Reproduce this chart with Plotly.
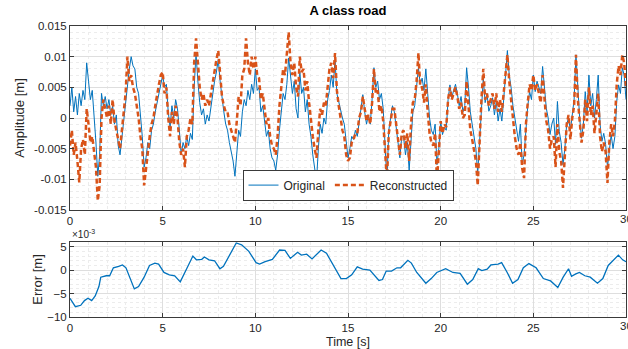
import numpy as np
import plotly.graph_objects as go

# ---------------- data (top plot values in units of 1e-3 m) ----------------
T_STEP = 0.1
ORIGINAL = [
    2, 5, 1, 3.5, 0.5, 4, 2, 4.5, 3, 9,
    6, 3, 4.5, 0.5, -4, -9.5, -6, 4, 2, 3.5,
    1.5, 3, 0.5, 2, -1, 0.5, -4.5, -6, -3, -0.5,
    3, 6, 8, 10, 8.5, 8, 5, 4, 0.5, -3,
    -8, -6.5, -4, -5, -2, -1, 1, 2.5, 4, 5.5,
    7, 5, 5.5, 1, -1.5, 2, 0, 3, 1.5, -2,
    -6, -4, -5, -3, -4.5, -2.5, -3.5, 5, 10.5, 6,
    2.5, 0.5, 1.5, -1, 0.5, -0.5, 2, 4, 6, 7.5,
    9.5, 6, 3, 1, -1, -2, -4, -5.5, -7, -9.5,
    -6, -2, -3, 1, 3, 2, 4.5, 3, 5.5, 4,
    8, 4.5, 5, 1, 2, -1, -3, -2, -5, -6.5,
    -7, -8.5, -6, -2, 1, 4, 3, 5.5, 9.8, 7,
    4, 6, 1.5, 0, 7.5, 4, 5, 1, 3, -1,
    -3, -6, -8, -10.3, -5, -1, -2.5, 0, -1, 3,
    4.5, 7, 5, 9.5, 4, 2.5, 1, 0, -1, -4,
    -6.5, -5, -3, -3.5, -2, -3, -1, 1.5, 3.8, 1,
    -1, 0.5, -1, 3, 8.2, 5, 6, 3, 4, 1.5,
    -5, -10.3, -2, 0, 2, 1, -1.5, -4, -6.5, -3,
    -3, -6, -4, -8.5, -3, 1, 2, 5, 8.2, 5.5,
    6.5, 4.5, 8, 4, 0, -2, -2.7, -1, -7.6, -5,
    -0.5, -2.7, -1.5, -2, 3, 5.4, 3.3, 4.5, 5.5, 4,
    2, 3.5, 1, 2, 8.2, 5, 1, -1, -3, -5,
    -9, -4, 2, 6.5, 2.5, 4, 1.1, 2, 3.3, 0.5,
    2.7, -0.5, 1.5, -0.5, 3, 7, 11, 7, 5, 2,
    0, -2, -3.8, -1, -7.6, -6, -1, 2, 4.3, 3,
    7, 4.3, 6, 5, 4, 8.4, 5, 1.6, 0, -2.7,
    -1, 0, -4.3, 2.7, -2.2, -4, -7.6, -5, -1, 0,
    -2, 1, 3, 10.3, 4, 0, -3.3, -1, 4.3, 1,
    7, 2, 4, 0, 3, 7, -1, -3.8, -2.5, -4.3,
    -8, -5, -2.7, -5, -3, 2.7, 5.4, 4, 8.2, 7,
    3,
]
RECONSTRUCTED = [
    -4.5, -2, -6, -4, -7, -10.5, -5, -3.5, -6, 1.5,
    -1, -4, -3, -6, -8, -13.5, -11, 0, 3, 1.5,
    0, 2, -1, 3, -0.5, -2, -3.5, -5, -2, 1,
    4, 10, 6, 7, 5, 4, 2, 0, -3, -5,
    -11, -8, -5, -3, -1, 0, 2, 4, 5.5, 7,
    7.5, 4, 5, 0, -3, 1, -1, 2, 0, -4,
    -6, -5, -8, -3, -2, 0, -1, 9, 13, 9,
    5, 3, 4, 2, 3, 2, 4, 6, 8, 9.5,
    11, 6.5, 3.5, 2, 1, 1, -1, -2, -3, -4,
    -0.5, 3.5, 2, 7, 8, 13, 9, 7, 10, 8,
    10, 7, 6.5, 3, 4, 1, -1, 0, -3, -4.5,
    -5, -6, -3, 2, 5, 8, 7, 10, 14, 9,
    7, 9, 5, 3.5, 10, 7.5, 8, 4.5, 6, 2.5,
    -0.5, -3, -5, -6.5, -2, 1.5, 0.5, 2.5, 2, 5.5,
    8, 9, 6.5, 10.6, 4.5, 2, 0, -2, -3, -6,
    -7, -6.5, -4, -3.5, -2.5, -2.5, 0, 1, 3.5, 1.5,
    -0.5, 0.5, -1, 2.5, 8, 4, 4.5, 1, 2, -0.5,
    -5.5, -10.3, -2.5, 0, 1.5, 1.5, -1, -3.5, -6, -2.5,
    -2, -5, -2.5, -7, -1, 2.5, 3, 6, 10.6, 5,
    5, 2.5, 5.5, 1, -2.5, -4, -4.5, -2.5, -10.3, -5.5,
    -0.5, -2.5, -1, -1.5, 3, 5, 3, 4, 5, 3.5,
    1.5, 2.5, 0, 0.5, 6, 2, -2, -3.5, -5, -7,
    -11, -3.5, 3, 8, 3, 4, 2, 3, 4, 1.5,
    4, 1, 3, 1, 4, 7.5, 10.3, 6, 3, -1,
    -3, -5, -6, -4, -8.2, -9.8, -1, 2.5, 5.5, 4.5,
    7, 4.5, 5.5, 4, 2.5, 7, 3, -0.5, -2, -5,
    -3.5, -3, -8, -1, -5.5, -7, -11.4, -6, -1, 0.5,
    -3.5, 0, 2, 10.3, 3, -0.5, -4, -2, 3, -0.5,
    5, 0.5, 2, -2.5, 0.5, 4, -3, -5.5, -4, -5.5,
    -10.6, -4, -1, -3, -0.5, 5.5, 8.5, 7, 10.3, 9,
    5,
]
# error signal (units of 1e-3 m)
ERR_T = [0, 0.29, 0.58, 0.78, 0.97, 1.17, 1.36, 1.56, 1.66, 1.95, 2.14, 2.34, 2.63, 2.83,
         3.02, 3.22, 3.47, 3.70, 4.0, 4.29, 4.58, 4.78, 5.07, 5.36, 5.65, 5.95, 6.24, 6.63,
         6.82, 7.11, 7.25, 7.5, 7.8, 8.09, 8.28, 8.58, 8.97, 9.26, 9.65, 10.04, 10.23, 10.53,
         10.92, 11.31, 11.6, 11.89, 12.28, 12.48, 12.77, 13.06, 13.55, 13.84, 14.23, 14.62,
         14.91, 15.2, 15.5, 15.79, 16.18, 16.67, 16.86, 17.06, 17.35, 17.64, 17.84, 18.23,
         18.42, 18.71, 19.2, 19.49, 19.79, 20.27, 20.66, 21.05, 21.44, 21.73, 22.03, 22.22,
         22.51, 22.71, 23.1, 23.29, 23.59, 23.88, 24.17, 24.46, 24.76, 25.15, 25.54, 25.93,
         26.32, 26.61, 26.9, 27.06, 27.29, 27.49, 27.78, 28.07, 28.46, 28.75, 29.04, 29.43,
         29.59, 29.82, 30.0]
ERR_V = [-6.0, -7.8, -7.5, -6.5, -6.0, -6.5, -5.5, -3.5, -1.5, -1.2, -1.2, 0.5, 0.8, 1.1,
         0.5, -1.5, -4.0, -3.5, -1.5, 1.0, 1.5, 1.3, -0.5, -1.0, -1.2, -2.5, 0.0, 3.0,
         2.2, 2.3, 2.8, 2.2, 2.0, 0.3, 0.8, 3.0, 5.8, 5.4, 4.0, 1.6, 1.3, 1.8,
         2.3, 4.3, 4.2, 2.5, 3.8, 3.2, 3.4, 2.4, 4.3, 3.6, 1.0, -1.8,
         -1.8, -1.0, 0.7, 0.2, 0.0, -2.2, -2.0, -0.2, -0.2, 0.5, 0.5, 2.1,
         1.5, -0.5, -2.8, -1.8, -0.5, 0.3, -0.5, -0.7, -3.0, -2.0, 0.3, -0.1,
         0.2, 1.1, 1.3, 1.6, -0.5, -2.8, -2.0, 0.5, 1.4, 0.5, -1.8, -2.3,
         -3.7, -1.5, 0.3, -1.3, -0.8, -0.5, -1.2, -1.5, -2.8, -1.8, 1.0, 2.6,
         3.2, 2.2, 1.8]

X_TICKS = [0, 5, 10, 15, 20, 25, 30]
X_TICKTEXT = ["0", "5", "10", "15", "20", "25", "30"]
AMP_TICKVALS = [-15, -10, -5, 0, 5, 10, 15]
AMP_TICKTEXT = ["-0.015", "-0.01", "-0.005", "0", "0.005", "0.01", "0.015"]
ERR_TICKS = [-10, -5, 0, 5]

t = np.arange(len(ORIGINAL)) * T_STEP

BLUE = "#0072BD"
ORANGE = "#D95319"
FONT = "Liberation Sans, Arial, Helvetica, sans-serif"
TXT = "#262626"

TOP_DOM = [0.3677, 1.0]
BOT_DOM = [0.0, 0.2577]

fig = go.Figure()
fig.add_trace(go.Scatter(x=t, y=ORIGINAL, mode="lines", name="Original",
                         line=dict(color=BLUE, width=1), xaxis="x", yaxis="y"))
fig.add_trace(go.Scatter(x=t, y=RECONSTRUCTED, mode="lines", name="Reconstructed",
                         line=dict(color=ORANGE, width=2.5, dash="5px,3px"), xaxis="x", yaxis="y"))
fig.add_trace(go.Scatter(x=ERR_T, y=ERR_V, mode="lines", showlegend=False,
                         line=dict(color=BLUE, width=1.3), xaxis="x2", yaxis="y2"))

axis_common = dict(showline=True, linecolor="#3a3a3a", linewidth=1, mirror="ticks",
                   ticks="inside", ticklen=4, tickcolor="#3a3a3a",
                   showgrid=True, gridcolor="#dedede", gridwidth=1, zeroline=False,
                   tickfont=dict(family=FONT, size=11.5, color=TXT))
minor_common = dict(showgrid=True, gridcolor="#ececec", griddash="dot", gridwidth=1)

fig.update_layout(
    width=628, height=349,
    margin=dict(l=70, r=2, t=26, b=32),
    paper_bgcolor="white", plot_bgcolor="white",
    font=dict(family=FONT, color=TXT),
    title=dict(text="<b>A class road</b>", x=348 / 628, xanchor="center",
               y=1 - 10 / 349, yanchor="middle", font=dict(size=13, color="#000000")),
    xaxis=dict(domain=[0, 1], range=[0, 30], tickvals=X_TICKS[:-1], anchor="y",
               minor=dict(dtick=1, **minor_common), automargin=False, **axis_common),
    yaxis=dict(domain=TOP_DOM, range=[-15, 15], tickvals=AMP_TICKVALS,
               ticktext=AMP_TICKTEXT, anchor="x", automargin=False,
               minor=dict(dtick=1, **minor_common),
               title=dict(text="Amplitude [m]", standoff=6,
                          font=dict(family=FONT, size=13, color=TXT)),
               **axis_common),
    xaxis2=dict(domain=[0, 1], range=[0, 30], tickvals=X_TICKS[:-1], anchor="y2",
                minor=dict(dtick=1, **minor_common), automargin=False,
                **axis_common),
    yaxis2=dict(domain=BOT_DOM, range=[-10, 6], tickvals=ERR_TICKS, anchor="x2",
                minor=dict(dtick=1, **minor_common), automargin=False,
                title=dict(text="Error [m]", standoff=1,
                           font=dict(family=FONT, size=13, color=TXT)),
                **axis_common),
    legend=dict(orientation="h", x=0.5, xanchor="center", y=0.40, yanchor="bottom",
                bgcolor="white", bordercolor="#3a3a3a", borderwidth=1,
                font=dict(family=FONT, size=12, color=TXT),
                itemwidth=30, tracegroupgap=0),
    showlegend=True,
)
# the last x tick label ("30") sits on the figure edge and is cut, as in the reference
for xa, ya, dom in (("x", "paper", TOP_DOM), ("x2", "paper", BOT_DOM)):
    fig.add_annotation(text=X_TICKTEXT[-1], xref=xa, yref=ya, x=X_TICKS[-1], xanchor="center",
                       y=dom[0], yanchor="top", yshift=-1, showarrow=False,
                       font=dict(family=FONT, size=11.5, color=TXT))
fig.add_annotation(text="Time [s]", xref="paper", yref="paper", x=0.5, xanchor="center",
                   y=-0.085, yanchor="middle", showarrow=False,
                   font=dict(family=FONT, size=12.5, color=TXT))
fig.add_annotation(text="\u00d710<sup>-3</sup>", xref="paper", yref="paper",
                   x=0.0, xanchor="left", y=BOT_DOM[1], yanchor="bottom", showarrow=False,
                   font=dict(family=FONT, size=10, color=TXT))

fig.write_html("out.html")
